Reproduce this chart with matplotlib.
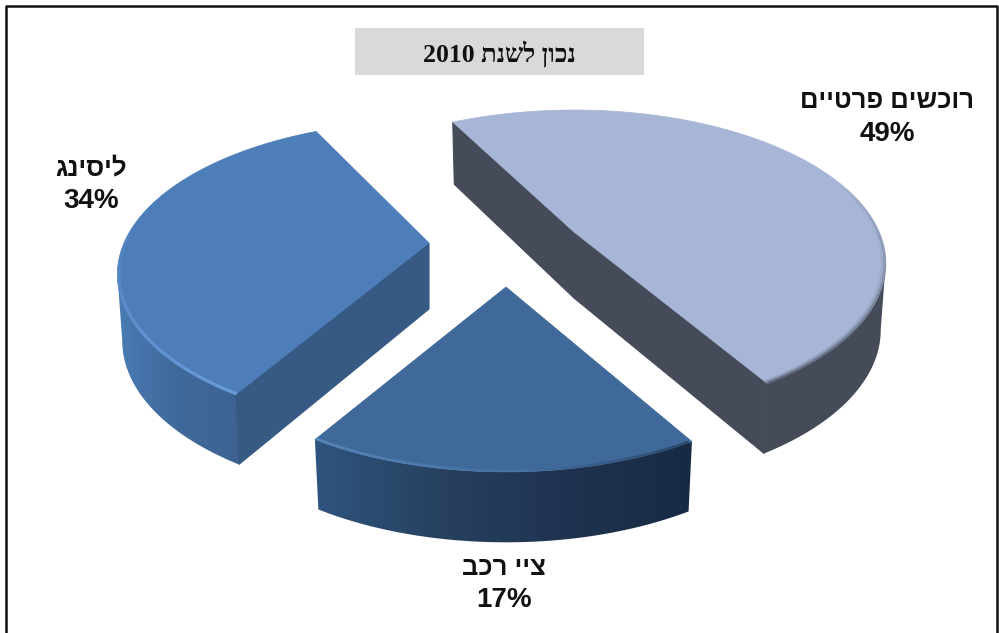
import numpy as np
import matplotlib
matplotlib.use('Agg')
import matplotlib.pyplot as plt
from matplotlib.collections import LineCollection
from matplotlib.colors import LinearSegmentedColormap, to_rgb
from matplotlib.patches import Rectangle, Polygon

labels = ['רוכשים פרטיים', 'ציי רכב', 'ליסינג']
values = [49, 17, 34]
title_he = 'נכון לשנת'
title_year = '2010'

start_angle = 119.0
nudge = [-1.0, -2.5, -3.0]  # slices are turned a little each in the original
apex = [(574, 232), (506, 287), (429, 243)]
label_y = [(101, 134), (568, 600), (168, 201)]
label_x = [887, 504, 91]

top_col = ['#A7B6D6', '#3E6999', '#4D7EBA']
inner_col = ['#454B59', '#2F5580', '#375A85']
wall_cols = [['#454B59', '#454B59'],
             ['#2F5580', '#27415F', '#1F3350', '#172A42'],
             ['#4A7CB5', '#40699B', '#3D6391']]

# rough perspective of the pie plane
A, B, K, DEPTH = 305.0, 147.0, 0.205, 66.0
BOTTOM_R = 0.985


def hebrew(s):
    # matplotlib has no bidi, so draw in visual order
    return s[::-1]


def project(c, r, ang, z=0.0):
    x = r * np.cos(np.radians(ang))
    y = r * np.sin(np.radians(ang))
    s = 1.0 / (1.0 + K * y)
    return c[0] + A * x * s, c[1] - B * y * s + z * DEPTH * np.sqrt(s)


def arc(c, a1, a2, r=1.0, z=0.0, n=200):
    ang = np.linspace(a1, a2, n)
    return project(c, r, ang, z)


def front_part(c, a1, a2, r, z):
    # the near part of an arc, cut at its left and right extremes
    ang = np.linspace(a1, a2, 400)
    ang = ang[np.sin(np.radians(ang)) < 0.25]
    x, y = project(c, r, ang, z)
    i, j = sorted((int(np.argmin(x)), int(np.argmax(x))))
    return x[i:j + 1], y[i:j + 1]


def rim(c, a1, a2, r, color, lw, a_from, a_to, z):
    # line along the rim with alpha running from a_from to a_to
    x, y = arc(c, a1, a2, r=r)
    pts = np.column_stack([x, y])
    segs = np.stack([pts[:-1], pts[1:]], axis=1)
    al = np.linspace(a_from, a_to, len(segs))
    cols = [(*to_rgb(color), v) for v in al]
    ax.add_collection(LineCollection(segs, colors=cols, linewidths=lw, zorder=z, capstyle='butt'))


fig = plt.figure(figsize=(9.99, 6.33), dpi=100)
ax = fig.add_axes([0, 0, 1, 1])
ax.axis('off')

# frame
ax.plot([6, 6, 997, 997], [640, 6, 6, 640], color='#111111', lw=1.8)

ax.add_patch(Rectangle((355, 28), 289, 47, fc='#D9D9D9', ec='none'))
ax.text(499, 54, title_year + ' ' + hebrew(title_he), ha='center', va='center',
        family='Liberation Serif', weight='bold', fontsize=18.5, color='#111111')

# angles come from the values, clockwise from the start angle
spans = np.array(values) / sum(values) * 360.0
a_end = start_angle - np.cumsum(spans) + np.array(nudge)
a_start = a_end + spans

for i in [0, 2, 1]:
    c = apex[i]
    a1, a2 = a_start[i], a_end[i]
    zo = 2 + i

    # outer wall, horizontal gradient clipped to the wall shape
    xt, yt = front_part(c, a1, a2, 1.0, 0.0)
    xb, yb = front_part(c, a1, a2, BOTTOM_R, 1.0)
    wall = Polygon(np.column_stack([np.r_[xt, xb[::-1]], np.r_[yt, yb[::-1]]]),
                   transform=ax.transData, fc='none', ec='none')
    ax.add_patch(wall)
    cmap = LinearSegmentedColormap.from_list('w', wall_cols[i])
    im = ax.imshow(np.linspace(0, 1, 256)[None, :], cmap=cmap, aspect='auto',
                   extent=(min(xt.min(), xb.min()) - 3, max(xt.max(), xb.max()) + 3,
                           yb.max() + 3, yt.min() - 3), zorder=zo)
    im.set_clip_path(wall)

    # radial side walls, only the ones facing the viewer
    for a, normal in ((a1, a1 + 90), (a2, a2 - 90)):
        if np.sin(np.radians(normal)) < 0:
            ex, ey = project(c, 1.0, a)
            bx, by = project(c, BOTTOM_R, a, 1.0)
            ax.fill([c[0], ex, bx, c[0]], [c[1], ey, by, c[1] + DEPTH],
                    color=inner_col[i], lw=0.8, zorder=zo)

    # top face
    tx, ty = arc(c, a1, a2)
    ax.fill(np.r_[c[0], tx], np.r_[c[1], ty], color=top_col[i], lw=0.5, zorder=zo)

ax.set_xlim(0, 999)
ax.set_ylim(633, 0)

# rim bevels
rim(apex[2], a_start[2] - 62, a_start[2], 0.995, '#6BA0E2', 2.2, 0.1, 0.95, 6)
rim(apex[1], a_end[1], a_end[1] + 38, 0.995, '#5F8EC4', 1.8, 0.9, 0.05, 6)
rim(apex[1], a_start[1] - 25, a_start[1] - 0.5, 0.997, '#1F3350', 2.0, 0.0, 0.7, 6)
rim(apex[0], 22, a_end[0], 0.998, '#4A5060', 2.0, 0.0, 0.8, 6)
rim(apex[0], 18, a_end[0], 0.990, '#6A7288', 2.0, 0.0, 0.4, 6)

for lab, val, lx, ly in zip(labels, values, label_x, label_y):
    ax.text(lx, ly[0], hebrew(lab), ha='center', va='center', family='Liberation Sans',
            weight='bold', fontsize=18.5, color='#111111', zorder=8)
    ax.text(lx, ly[1], f'{val}%', ha='center', va='center', family='Liberation Sans',
            weight='bold', fontsize=20, color='#111111', zorder=8)

fig.savefig('out.png', dpi=100)
